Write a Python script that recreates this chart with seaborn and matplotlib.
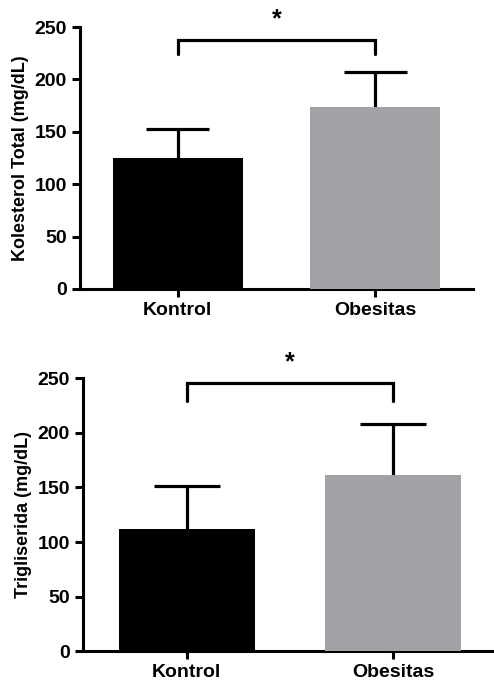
import numpy as np
import pandas as pd
import seaborn as sns
import matplotlib.pyplot as plt

groups = ["Kontrol", "Obesitas"]
kolesterol_mean = [125, 174]
kolesterol_sd = [28, 33]
trigliserida_mean = [112, 161]
trigliserida_sd = [39, 47]
bar_colors = ["#000000", "#a2a1a6"]

sns.set_style("ticks", {"axes.edgecolor": "black", "text.color": "black",
                        "axes.labelcolor": "black", "xtick.color": "black",
                        "ytick.color": "black"})
plt.rcParams['font.family'] = ['Liberation Sans', 'DejaVu Sans']
plt.rcParams['font.weight'] = 'bold'

fig = plt.figure(figsize=(4.94, 6.84), dpi=100)
ax1 = fig.add_axes([0.162, 0.5775, 0.796, 0.383])
ax2 = fig.add_axes([0.168, 0.048, 0.832, 0.399])


def panel(ax, means, sds, ylabel, bracket_y, leg_y, star_y, xlim):
    df = pd.DataFrame({"group": groups, "value": means})
    sns.barplot(data=df, x="group", y="value", hue="group", palette=bar_colors,
                errorbar=None, width=0.66, legend=False, ax=ax, zorder=3,
                saturation=1, linewidth=0)
    # upward-only SD bars: stem from bar top, cap at mean + sd
    x = np.arange(len(groups))
    tops = np.array(means) + np.array(sds)
    ax.vlines(x, means, tops, color="black", lw=2.3, zorder=2)
    ax.hlines(tops, x - 0.16, x + 0.16, color="black", lw=2.3, zorder=2)
    ax.plot([0, 0, 1, 1], [leg_y, bracket_y, bracket_y, leg_y], color="black",
            lw=2.3, clip_on=False, solid_joinstyle="miter")
    ax.text(0.5, star_y, "*", ha="center", va="center", fontsize=18,
            fontweight="bold", color="black")
    ax.set_ylim(0, 250)
    ax.set_yticks([0, 50, 100, 150, 200, 250])
    ax.set_xlim(*xlim)
    ax.set_xlabel("")
    ax.set_ylabel(ylabel, fontsize=13, fontweight="bold", labelpad=4,
                  color="black")
    sns.despine(ax=ax)
    for s in ["left", "bottom"]:
        ax.spines[s].set_linewidth(2.2)
        ax.spines[s].set_color("black")
    ax.tick_params(width=2.2, length=6, labelsize=14, colors="black")
    for lab in ax.get_xticklabels() + ax.get_yticklabels():
        lab.set_fontweight("bold")


panel(ax1, kolesterol_mean, kolesterol_sd, "Kolesterol Total (mg/dL)",
      238, 224, 257, (-0.495, 1.497))
panel(ax2, trigliserida_mean, trigliserida_sd, "Trigliserida (mg/dL)",
      246, 229, 265, (-0.503, 1.49))

fig.savefig("out.png", dpi=100)
